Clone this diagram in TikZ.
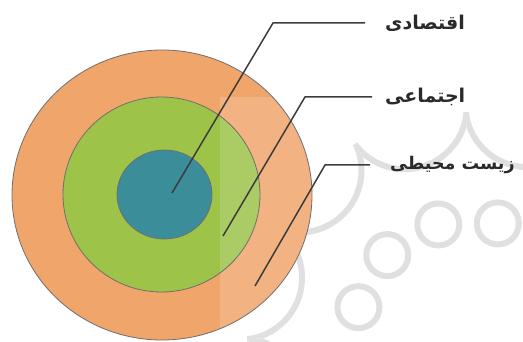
\documentclass[tikz,border=0pt]{standalone}
\usepackage{fontspec}
\newfontfamily\farsifont[Script=Arabic]{DejaVu Sans}
\TeXXeTstate=1
\usetikzlibrary{positioning}
\definecolor{ringorange}{HTML}{F0A56B}
\definecolor{ringgreen}{HTML}{9DC449}
\definecolor{ringteal}{HTML}{3A8D99}
\definecolor{ringedge}{HTML}{6F6F6F}
\definecolor{leadergray}{HTML}{3C3C3C}
\definecolor{tagtext}{HTML}{2A2A2A}
\definecolor{wmark}{HTML}{E0E0E0}

\begin{document}
\begin{tikzpicture}[x=1pt, y=-1pt,
  ring/.style={draw=ringedge, line width=0.8pt},
  leader/.style={draw=leadergray, line width=1.5pt},
  tag/.style={anchor=west, inner xsep=20pt, inner ysep=0pt, text=tagtext,
    font=\farsifont\bfseries\fontsize{19}{19}\selectfont},
  wm/.style={draw=wmark, line width=6pt}
]
\useasboundingbox (0,0) rectangle (523,342);

% watermark rosette, bottom right
\foreach \a in {16,46,76,106,136,166,196}
  \draw[wm] ({470+115*cos(\a)},{335-115*sin(\a)}) circle [radius=21pt];
\foreach \a in {16,46,76,106,136,166,196} {
  \begin{scope}
    \clip (470,335) circle [radius=223pt];
    \clip (470,335) -- ({470+400*cos(\a-15)},{335-400*sin(\a-15)})
      -- ({470+420*cos(\a)},{335-420*sin(\a)})
      -- ({470+400*cos(\a+15)},{335-400*sin(\a+15)}) -- cycle;
    \draw[wm] ({470+237*cos(\a)},{335-237*sin(\a)}) circle [radius=62pt];
  \end{scope}
}

% three rings
\fill[ringorange] (162,195) ellipse [x radius=150pt, y radius=145pt];
\fill[ringgreen] (161.5,194.5) ellipse [x radius=98.5pt, y radius=97.5pt];
\fill[ringteal] (164.5,194.5) ellipse [x radius=47.5pt, y radius=44.5pt];

% pale band over the right part
\begin{scope}
  \clip (162,195) ellipse [x radius=150pt, y radius=145pt];
  \fill[white, opacity=0.15] (220,97) rectangle (330,342);
\end{scope}

\draw[ring] (162,195) ellipse [x radius=150pt, y radius=145pt];
\draw[ring] (161.5,194.5) ellipse [x radius=98.5pt, y radius=97.5pt];
\draw[ring] (164.5,194.5) ellipse [x radius=47.5pt, y radius=44.5pt];

% labels
\node[tag] (econ) at (365,23) {\farsifont\beginR اقتصادی\endR};
\node[tag, inner xsep=13pt] (soc) at (372,97) {\farsifont\beginR اجتماعی\endR};
\node[tag, font=\farsifont\bfseries\fontsize{17.5}{17.5}\selectfont] (env) at (370,165) {\farsifont\beginR زیست محیطی\endR};

% leader lines
\coordinate (econIn) at (172,193);
\coordinate (econBend) at (273,23);
\coordinate (socIn) at (223,236);
\coordinate (socBend) at (305,97);
\coordinate (envIn) at (255,286);
\coordinate (envBend) at (325,165);

\draw[leader] (econIn) -- (econBend) -- (econ.west);
\draw[leader] (socIn) -- (socBend) -- (soc.west);
\draw[leader] (envIn) -- (envBend) -- (env.west);

\end{tikzpicture}
\end{document}
